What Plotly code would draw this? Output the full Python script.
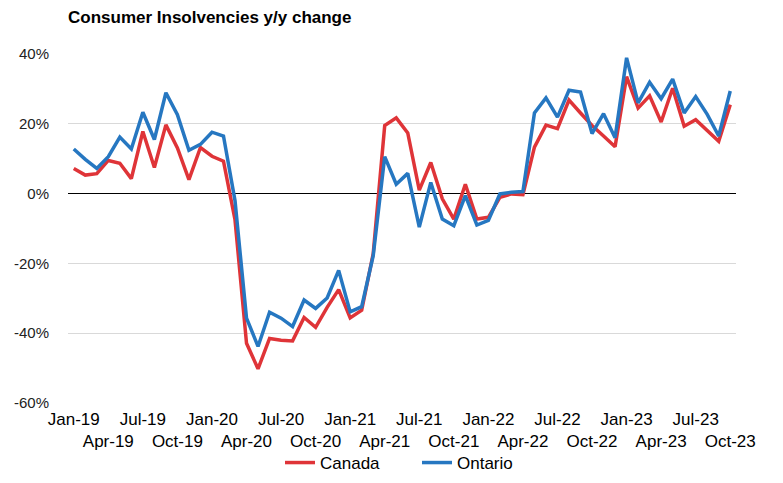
import pandas as pd
import plotly.graph_objects as go

# monthly categories, Jan-2019 .. Oct-2023
months = pd.date_range("2019-01-01", "2023-10-01", freq="MS").strftime("%b-%y").tolist()

# y/y change in consumer insolvencies (%)
canada = [7.2, 5.3, 5.7, 9.5, 8.7, 4.3, 17.8, 7.5, 19.7, 13.1, 4.0, 13.2,
          10.7, 9.3, -7.5, -42.9, -50.2, -41.5, -42.0, -42.2, -35.5, -38.3, -32.6, -27.5,
          -35.6, -33.4, -17.2, 19.5, 21.7, 17.4, 1.0, 8.9, -1.5, -7.3, 2.7, -7.3,
          -6.8, -1.1, -0.1, -0.3, 13.3, 19.6, 18.6, 26.8, 23.1, 19.5, 16.5, 13.4,
          33.5, 24.5, 28.0, 20.5, 30.2, 19.3, 21.2, 18.1, 15.0, 25.5]
ontario = [12.8, 9.8, 7.2, 10.6, 16.2, 12.8, 23.3, 15.5, 28.9, 22.6, 12.4, 14.1,
           17.6, 16.5, -2.0, -35.7, -43.8, -34.0, -35.7, -38.1, -30.5, -32.9, -29.9, -22.0,
           -33.9, -32.4, -17.8, 10.6, 2.7, 5.8, -9.6, 3.2, -7.3, -9.2, -0.6, -9.0,
           -7.7, -0.1, 0.4, 0.6, 23.1, 27.4, 21.9, 29.6, 29.1, 17.2, 22.9, 16.0,
           38.9, 26.0, 31.9, 27.2, 32.8, 23.1, 27.8, 22.7, 16.5, 29.4]

# every third month labelled, alternating between two rows
tick_months = months[::3]
tick_text = [m if k % 2 == 0 else "<br>" + m for k, m in enumerate(tick_months)]
y_ticks = [-60, -40, -20, 0, 20, 40]

FONT = "Arial, Liberation Sans, sans-serif"
W, H = 775, 475  # page body has an 8px margin

fig = go.Figure()
fig.add_trace(go.Scatter(x=months, y=canada, mode="lines", name="Canada",
                         line=dict(color="#DF3438", width=3.5)))
fig.add_trace(go.Scatter(x=months, y=ontario, mode="lines", name="Ontario",
                         line=dict(color="#2677C1", width=3.5)))

fig.update_layout(
    width=W, height=H,
    margin=dict(l=60, r=47, t=46, b=80, autoexpand=False),
    plot_bgcolor="white", paper_bgcolor="white",
    font=dict(family=FONT, color="#000000"),
    title=dict(text="<b>Consumer Insolvencies y/y change</b>",
               x=60 / W, xanchor="left", xref="container",
               y=1 - 9 / H, yanchor="middle", yref="container",
               font=dict(size=17, color="#000000")),
    legend=dict(orientation="h", x=272 / W, xanchor="left", xref="container",
                y=1 - 455 / H, yanchor="middle", yref="container",
                bgcolor="rgba(0,0,0,0)",
                font=dict(size=17), entrywidth=92, entrywidthmode="pixels"),
    showlegend=True,
)
fig.update_xaxes(type="category", range=[-0.5, len(months) - 0.5],
                 tickmode="array", tickvals=tick_months, ticktext=tick_text,
                 tickangle=0, showgrid=False, showline=False, zeroline=False,
                 ticks="", ticklabelstandoff=4, automargin=False,
                 tickfont=dict(size=17, color="#000000"))
fig.update_yaxes(range=[-60, 40], tickvals=y_ticks,
                 ticktext=[f"{v}%" for v in y_ticks],
                 showgrid=True, gridcolor="#D9D9D9", gridwidth=1,
                 zeroline=True, zerolinecolor="#000000", zerolinewidth=1.3,
                 showline=False, ticks="", ticklabelstandoff=18, automargin=False,
                 tickfont=dict(size=15, color="#222222"))

fig.write_html("out.html")
